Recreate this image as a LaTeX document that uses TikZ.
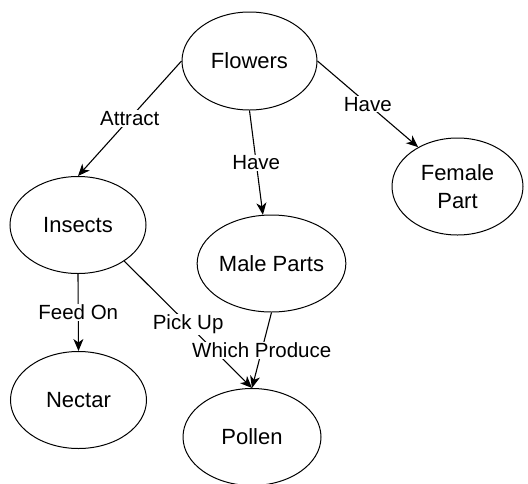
\documentclass[tikz,border=0pt]{standalone}
\usepackage{fontspec}
\setmainfont{Liberation Sans}
\usetikzlibrary{shapes.geometric,arrows.meta}
\begin{document}
\begin{tikzpicture}[x=1pt,y=-1pt,
    concept/.style={ellipse, draw, line width=1pt, inner sep=0pt, align=center,
      minimum width=136pt, minimum height=97pt, font=\fontsize{22}{28}\selectfont},
    link/.style={draw, line width=1.1pt, -{Stealth[length=12pt,width=10pt,inset=3.5pt]}},
    linklabel/.style={fill=white, inner sep=1pt, font=\fontsize{20.5}{23}\selectfont}]
      \useasboundingbox (0,0) rectangle (528,483);
      % Nodes
      \node (flowers) at (249.5,61) [concept, minimum width=135pt, minimum height=98pt] {Flowers};
      \node (insects) at (78,225) [concept] {Insects};
      \node (maleparts) at (271.5,263.5) [concept] {Male Parts};
      \node (femalepart) at (457.5,186.5) [concept, minimum width=131pt] {Female\\Part};
      \node (nectar) at (78.5,400) [concept] {Nectar};
      \node (pollen) at (252,437) [concept, minimum width=138pt] {Pollen};

      % Edges
      \draw[link] (flowers.west) -- node[linklabel] {Attract} (insects.north);
      \draw[link] (flowers.south) -- node[linklabel] {Have} (maleparts.100);
      \draw[link] (flowers.east) -- node[linklabel] {Have} (femalepart.135);
      \draw[link] (insects.south) -- node[linklabel] {Feed On} (nectar.north);
      \draw[link] (insects.-38) -- node[linklabel] {Pick Up} (pollen.north);
      \draw[link] (maleparts.south) -- node[linklabel] {Which Produce} (pollen.north);
    \end{tikzpicture}
\end{document}
